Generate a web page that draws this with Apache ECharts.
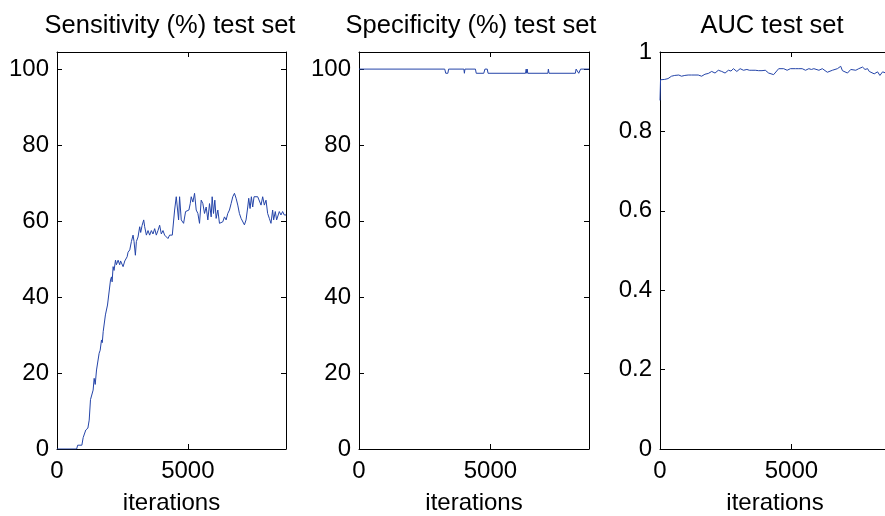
<!DOCTYPE html>
<html>
<head>
<meta charset="utf-8">
<script src="https://cdn.jsdelivr.net/npm/echarts@6/dist/echarts.min.js"></script>
<style>
  html, body { margin: 0; padding: 0; background: #fff; }
  #chart { width: 885px; height: 516px; }
</style>
</head>
<body>
<div id="chart"></div>
<script>
// Panel titles and tick labels
const panelTitles = ['Sensitivity (%) test set', 'Specificity (%) test set', 'AUC test set'];
const xTicks = [0, 5000];
const pctTicks = [0, 20, 40, 60, 80, 100];
const aucTicks = [0, 0.2, 0.4, 0.6, 0.8, 1];
const xName = 'iterations';

// Sensitivity (%) on the test set vs. training iterations
const sensIter = [0, 750, 790, 950, 1000, 1100, 1180, 1230, 1280, 1340, 1380, 1420, 1460, 1510, 1610, 1650, 1700, 1730, 1765, 1810, 1850, 1930, 1960, 2045, 2083, 2106, 2144, 2180, 2235, 2270, 2335, 2395, 2430, 2525, 2590, 2680, 2715, 2780, 2843, 2906, 2944, 2995, 3033, 3096, 3160, 3198, 3250, 3313, 3350, 3415, 3478, 3540, 3605, 3668, 3732, 3795, 3858, 3922, 3986, 4050, 4112, 4176, 4240, 4303, 4405, 4494, 4557, 4621, 4646, 4684, 4748, 4837, 4913, 4964, 5040, 5091, 5129, 5192, 5256, 5319, 5383, 5446, 5510, 5573, 5637, 5700, 5764, 5827, 5891, 5929, 5980, 6030, 6081, 6145, 6208, 6272, 6335, 6399, 6462, 6526, 6589, 6653, 6716, 6780, 6843, 6907, 6970, 7034, 7097, 7161, 7224, 7288, 7326, 7377, 7427, 7478, 7529, 7605, 7669, 7732, 7796, 7859, 7923, 7986, 8049, 8113, 8176, 8240, 8278, 8341, 8392, 8443, 8494, 8557, 8621, 8684, 8750];
const sensValue = [0, 0, 1, 1, 3, 5, 5.5, 7.6, 13, 13.2, 15.5, 18.6, 17, 20.8, 25.2, 26, 28.7, 28, 30.9, 31.3, 35.3, 37.9, 38.4, 44.5, 45.3, 44, 48, 47, 49.7, 48.5, 49.7, 48.5, 49.5, 48, 49.5, 50.6, 51.8, 52.4, 54.6, 56.3, 54.6, 51, 54.6, 55.8, 58.5, 57, 58.8, 60.3, 58.5, 56.3, 57.5, 56.3, 57.5, 56.6, 58, 56.3, 57.5, 58.9, 56.6, 57.5, 56.3, 56.6, 55.4, 56.3, 56.3, 62.9, 66.4, 66, 60.3, 66.4, 60.3, 59.4, 62.5, 62, 62.9, 64.6, 66.4, 65, 67.3, 62.9, 62, 59.4, 65.5, 64.6, 62, 63.7, 60.3, 64.6, 61.1, 66.4, 62, 65.5, 60.7, 62.9, 59.4, 59.4, 59.8, 61.1, 60.3, 62, 62.9, 64.6, 66.4, 67.3, 66, 64.2, 62, 60.7, 61.1, 59, 60.3, 63.7, 66, 63.3, 66.4, 63.7, 66.4, 66.4, 66.4, 66.4, 64.2, 66.4, 64.2, 65.5, 62, 60.7, 59.4, 62.9, 60.3, 62.5, 60.3, 60.3, 62.5, 61.6, 62.5, 61.6, 61.6];

// Specificity (%) on the test set: step changes between 100 and 98.9
const specIter = [0, 3262, 3300, 3380, 3410, 3990, 4010, 4030, 4430, 4460, 4747, 4790, 4880, 4910, 6335, 6360, 6380, 6400, 6420, 7186, 7205, 7230, 8230, 8260, 8330, 8360, 8400, 8430, 8750];
const specValue = [100, 100, 98.9, 98.9, 100, 100, 98.9, 100, 100, 98.9, 98.9, 100, 100, 98.9, 98.9, 100, 98.9, 100, 98.9, 98.9, 100, 98.9, 98.9, 100, 100, 98.9, 98.9, 100, 100];

// AUC on the test set
const aucIter = [0, 20, 53, 180, 306, 436, 562, 627, 715, 818, 945, 1071, 1200, 1330, 1454, 1584, 1710, 1837, 1967, 2093, 2219, 2349, 2475, 2602, 2700, 2793, 2923, 3049, 3176, 3306, 3400, 3497, 3560, 3623, 3690, 3750, 3820, 3880, 3940, 4006, 4132, 4323, 4515, 4706, 4836, 4962, 5154, 5280, 5410, 5536, 5663, 5760, 5854, 6045, 6175, 6366, 6558, 6749, 6875, 6940, 7002, 7132, 7258, 7449, 7560, 7705, 7800, 7897, 7960, 8023, 8149, 8278, 8366, 8468, 8595, 8750];
const aucValue = [0.878, 0.930, 0.933, 0.931, 0.933, 0.939, 0.941, 0.937, 0.942, 0.939, 0.941, 0.942, 0.942, 0.942, 0.942, 0.939, 0.944, 0.946, 0.951, 0.947, 0.954, 0.951, 0.947, 0.954, 0.952, 0.958, 0.951, 0.958, 0.954, 0.956, 0.954, 0.954, 0.958, 0.954, 0.957, 0.953, 0.958, 0.953, 0.957, 0.954, 0.947, 0.943, 0.958, 0.958, 0.954, 0.958, 0.958, 0.958, 0.958, 0.954, 0.958, 0.956, 0.958, 0.954, 0.958, 0.949, 0.954, 0.958, 0.964, 0.953, 0.954, 0.947, 0.956, 0.954, 0.958, 0.962, 0.956, 0.958, 0.951, 0.954, 0.945, 0.950, 0.941, 0.950, 0.947, 0.948];

const xMax = 8750;
const pctMax = 104.5;
const lineColor = '#2444a8';
const font = '"Liberation Sans", Arial, Helvetica, sans-serif';

function pairs(xs, ys) { return xs.map((x, i) => [x, ys[i]]); }

// Fixed plot boxes; labels may sit outside them (and the last box runs off the right edge)
const grids = [
  { left: 57, top: 52, width: 229, height: 397, outerBoundsMode: 'none', containLabel: false },
  { left: 359, top: 52, width: 230, height: 397, outerBoundsMode: 'none', containLabel: false },
  { left: 660, top: 52, width: 230, height: 397, outerBoundsMode: 'none', containLabel: false }
];
const titleCenters = [165, 466, 767];

const axisLineStyle = { show: true, onZero: false, lineStyle: { color: '#000', width: 1 } };
const tickStyle = { show: true, inside: true, length: 5, lineStyle: { color: '#000', width: 1 } };
const labelStyle = { color: '#000', fontSize: 24, fontFamily: font, formatter: (v) => String(v) };

const xAxes = [];
const yAxes = [];
grids.forEach((g, i) => {
  xAxes.push({
    type: 'value', gridIndex: i, position: 'bottom', min: 0, max: xMax, interval: 5000,
    name: xName, nameLocation: 'middle', nameGap: 42,
    nameTextStyle: { color: '#000', fontSize: 24, fontFamily: font },
    axisLine: axisLineStyle,
    axisTick: Object.assign({ customValues: xTicks }, tickStyle),
    axisLabel: Object.assign({ customValues: xTicks, margin: 10 }, labelStyle),
    splitLine: { show: false }
  });
  xAxes.push({
    type: 'value', gridIndex: i, position: 'top', min: 0, max: xMax, interval: 5000,
    axisLine: axisLineStyle,
    axisTick: Object.assign({ customValues: xTicks }, tickStyle),
    axisLabel: { show: false },
    splitLine: { show: false }
  });
  const isAuc = i === 2;
  const yTicks = isAuc ? aucTicks : pctTicks;
  const yMax = isAuc ? 1 : pctMax;
  yAxes.push({
    type: 'value', gridIndex: i, position: 'left', min: 0, max: yMax, interval: isAuc ? 0.2 : 20,
    axisLine: axisLineStyle,
    axisTick: Object.assign({ customValues: yTicks }, tickStyle),
    axisLabel: Object.assign({ customValues: yTicks, margin: 8 }, labelStyle),
    splitLine: { show: false }
  });
  yAxes.push({
    type: 'value', gridIndex: i, position: 'right', min: 0, max: yMax, interval: isAuc ? 0.2 : 20,
    axisLine: axisLineStyle,
    axisTick: Object.assign({ customValues: yTicks }, tickStyle),
    axisLabel: { show: false },
    splitLine: { show: false }
  });
});

const seriesData = [pairs(sensIter, sensValue), pairs(specIter, specValue), pairs(aucIter, aucValue)];

const chart = echarts.init(document.getElementById('chart'), null, { renderer: 'canvas' });
chart.setOption({
  animation: false,
  backgroundColor: '#fff',
  title: panelTitles.map((t, i) => ({
    text: t, left: titleCenters[i], top: 8, textAlign: 'center',
    textStyle: { color: '#000', fontSize: 25.5, fontWeight: 'normal', fontFamily: font }
  })),
  grid: grids,
  xAxis: xAxes,
  yAxis: yAxes,
  series: seriesData.map((d, i) => ({
    type: 'line', xAxisIndex: i * 2, yAxisIndex: i * 2, data: d,
    showSymbol: false, symbol: 'none', clip: true,
    lineStyle: { color: lineColor, width: 1 }
  }))
});
</script>
</body>
</html>
